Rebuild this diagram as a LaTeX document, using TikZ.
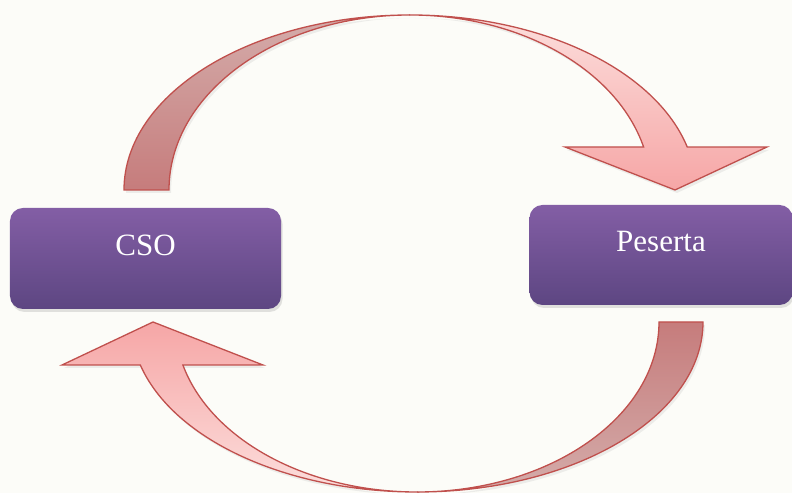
\documentclass[tikz,border=0pt]{standalone}
\usepackage{fontspec}
\setmainfont{Liberation Serif}
\usetikzlibrary{shadows}
\definecolor{bgc}{RGB}{252,252,248}
\definecolor{arrowline}{RGB}{192,80,77}
\definecolor{boxtop}{RGB}{131,94,165}
\definecolor{boxbot}{RGB}{93,70,130}
\definecolor{backtop}{RGB}{212,172,170}
\definecolor{backbot}{RGB}{198,124,124}
\definecolor{fronttop}{RGB}{252,222,220}
\definecolor{frontbot}{RGB}{246,166,166}
\begin{document}
\begin{tikzpicture}[x=1bp,y=1bp,
  boxstyle/.style={rounded corners=13bp, top color=boxtop, bottom color=boxbot,
    draw=none, text=white, font=\fontsize{31bp}{36bp}\selectfont, inner sep=0pt,
    text height=22bp, text depth=28bp,
    drop shadow={opacity=0.22,shadow xshift=1.5bp,shadow yshift=-3bp}},
  bandstyle/.style={draw=arrowline, line width=1.3bp, line join=miter,
    drop shadow={opacity=0.12,shadow xshift=2bp,shadow yshift=-3bp}}]
\useasboundingbox (0,0) rectangle (792,493);
\fill[bgc] (0,0) rectangle (792,493);

% top curved arrow: back band
\path[bandstyle, top color=backtop, bottom color=backbot]
  (124,303) arc[start angle=180, end angle=90, x radius=286bp, y radius=175bp]
  arc[start angle=90, end angle=180, x radius=241bp, y radius=175bp] -- cycle;
% top curved arrow: front band with head
\path[bandstyle, top color=fronttop, bottom color=frontbot]
  (410,478) arc[start angle=90, end angle=14.22, x radius=286bp, y radius=175bp]
  -- (767,346) -- (675,303) -- (565,346) -- (643.6,346)
  arc[start angle=14.22, end angle=90, x radius=241bp, y radius=175bp] -- cycle;

% bottom curved arrow: back band
\path[bandstyle, top color=backbot, bottom color=backtop]
  (703,171) arc[start angle=0, end angle=-90, x radius=286bp, y radius=170bp]
  arc[start angle=-90, end angle=0, x radius=242bp, y radius=170bp] -- cycle;
% bottom curved arrow: front band with head
\path[bandstyle, top color=frontbot, bottom color=fronttop]
  (417,1) arc[start angle=270, end angle=194.65, x radius=286bp, y radius=170bp]
  -- (62,128) -- (153,171) -- (263,128) -- (182.9,128)
  arc[start angle=194.65, end angle=270, x radius=242bp, y radius=170bp] -- cycle;

\node[boxstyle, minimum width=271bp, minimum height=101bp] (cso) at (145.5,234.5) {CSO};
\node[boxstyle, minimum width=263bp, minimum height=100bp] (peserta) at (661,238) {Peserta};
\end{tikzpicture}
\end{document}
